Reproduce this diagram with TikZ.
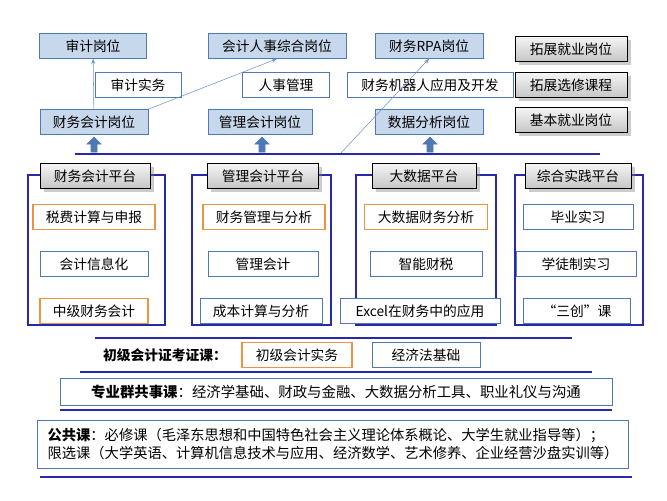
\documentclass[tikz,border=0pt]{standalone}
\usepackage{fontspec}
\setmainfont{Noto Sans CJK SC}
\usetikzlibrary{arrows.meta,shadows}
\definecolor{postfill}{RGB}{200,216,236}
\definecolor{postline}{RGB}{79,120,180}
\definecolor{orangeline}{RGB}{232,150,70}
\definecolor{frameblue}{RGB}{40,40,170}
\tikzset{
  post/.style={draw=postline,fill=postfill,minimum height=25*0.75pt,inner sep=1pt,font=\fontsize{10.3}{12}\selectfont},
  course/.style={draw=postline,fill=white,minimum height=25*0.75pt,inner sep=1pt,font=\fontsize{10.3}{12}\selectfont},
  ocourse/.style={course,draw=orangeline,thick},
  head/.style={draw=black,top color=gray!8,bottom color=gray!45,drop shadow={opacity=0.4},minimum height=25*0.75pt,inner sep=1pt,font=\fontsize{10.3}{12}\selectfont},
  frame/.style={draw=frameblue,line width=1pt},
  rule/.style={draw=frameblue,line width=1.4pt},
  thin/.style={draw=postline!80,-{Stealth[length=4pt]}},
  up/.style={draw=postline,fill=postline,line width=0.5pt}
}
\begin{document}
\begin{tikzpicture}[x=0.75pt,y=-0.75pt]
	\useasboundingbox (0,0) rectangle (667,500);

	% frames of the platforms
	\draw[frame] (28,175) rectangle (165,325);
	\draw[frame] (192,175) rectangle (331,325);
	\draw[frame] (356,175) rectangle (496,325);
	\draw[frame] (515,175) rectangle (643,325);

	% posts
	\node[post,minimum width=107*0.75pt] (audit) at (93,46) {审计岗位};
	\node[post,minimum width=138*0.75pt] (hr) at (277,46) {会计人事综合岗位};
	\node[post,minimum width=108*0.75pt] (rpa) at (429,46) {财务RPA岗位};
	\node[course,minimum width=86*0.75pt] (auditc) at (138,85) {审计实务};
	\node[course,minimum width=87*0.75pt] (hrc) at (286,85) {人事管理};
	\node[course,minimum width=166*0.75pt] (rpac) at (430,85) {财务机器人应用及开发};
	\node[post,minimum width=108*0.75pt] (fin) at (94,122) {财务会计岗位};
	\node[post,minimum width=104*0.75pt] (man) at (260,122) {管理会计岗位};
	\node[post,minimum width=108*0.75pt] (data) at (429,122) {数据分析岗位};

	% legend
	\node[head,minimum width=112*0.75pt] (lg1) at (571,49) {拓展就业岗位};
	\node[head,minimum width=112*0.75pt] (lg2) at (571,85) {拓展选修课程};
	\node[head,minimum width=112*0.75pt] (lg3) at (571,120) {基本就业岗位};

	% links
	\coordinate (base) at (340,154);
	\draw[thin] (fin) -- (audit);
	\draw[thin] (fin.north east) -- (hr.south);
	\draw[thin] (base) -- (rpa.south);
	\draw[rule] (75,154) -- (600,154);
	\foreach \x in {94,262,430}
	  {
	    \draw[up] (\x-3,152) -- (\x-3,144) -- (\x-7,144) -- (\x,137) -- (\x+7,144) -- (\x+3,144) -- (\x+3,152) -- cycle;
	  }

	% platforms
	\node[head,minimum width=110*0.75pt] (p1) at (95,176) {财务会计平台};
	\node[head,minimum width=111*0.75pt] (p2) at (263,176) {管理会计平台};
	\node[head,minimum width=104*0.75pt] (p3) at (424,176) {大数据平台};
	\node[head,minimum width=106*0.75pt] (p4) at (578,176) {综合实践平台};

	\node[ocourse,minimum width=122*0.75pt] (c11) at (94,217) {税费计算与申报};
	\node[course,minimum width=108*0.75pt] (c12) at (94,264) {会计信息化};
	\node[ocourse,minimum width=108*0.75pt] (c13) at (94,311) {中级财务会计};
	\node[ocourse,minimum width=122*0.75pt] (c21) at (264,217) {财务管理与分析};
	\node[course,minimum width=110*0.75pt] (c22) at (263,264) {管理会计};
	\node[course,minimum width=122*0.75pt] (c23) at (261,311) {成本计算与分析};
	\node[ocourse,minimum width=123*0.75pt] (c31) at (426,217) {大数据财务分析};
	\node[course,minimum width=112*0.75pt] (c32) at (426,264) {智能财税};
	\node[course,minimum width=160*0.75pt] (c33) at (420,311) {Excel在财务中的应用};
	\node[course,minimum width=110*0.75pt] (c41) at (578,217) {毕业实习};
	\node[course,minimum width=120*0.75pt] (c42) at (576,264) {学徒制实习};
	\node[course,minimum width=107*0.75pt] (c43) at (577,311) {“三创”课};

	\draw[rule] (95,338) -- (572,338);

	% certificate courses
	\node[font=\fontsize{10.3}{12}\selectfont\bfseries] (cert) at (165,355) {初级会计证考证课：};
	\node[ocourse,minimum width=110*0.75pt] (cert1) at (297,355) {初级会计实务};
	\node[course,minimum width=108*0.75pt] (cert2) at (426,355) {经济法基础};
	\draw[rule] (80,372) -- (592,372);

	\node[course,minimum width=552*0.75pt,minimum height=27*0.75pt,font=\fontsize{10.8}{12}\selectfont] (share) at (336,392)
	  {\textbf{专业群共事课}：经济学基础、财政与金融、大数据分析工具、职业礼仪与沟通};
	\draw[rule] (60,410) -- (612,410);

	\node[course,minimum width=591*0.75pt,minimum height=48*0.75pt,align=left,font=\fontsize{10.7}{14}\selectfont] (pub) at (333,444)
	  {\textbf{公共课}：必修课（毛泽东思想和中国特色社会主义理论体系概论、大学生就业指导等）；\\
	  限选课（大学英语、计算机信息技术与应用、经济数学、艺术修养、企业经营沙盘实训等）};
	\draw[rule] (40,477) -- (632,477);
\end{tikzpicture}
\end{document}
